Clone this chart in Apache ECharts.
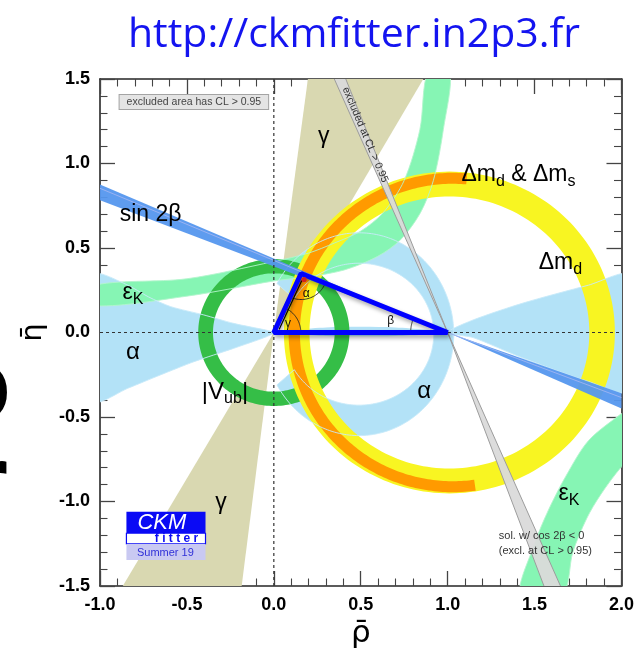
<!DOCTYPE html>
<html>
<head>
<meta charset="utf-8">
<script src="https://cdn.jsdelivr.net/npm/echarts@6/dist/echarts.min.js"></script>
<style>
  html, body { margin: 0; padding: 0; background: #fff; }
  #chart { width: 637px; height: 655px; }
</style>
</head>
<body>
<div id="chart"></div>
<script>
// Constraint regions in the (rho-bar, eta-bar) plane, as boundary points or ring parameters.
// Ring parameters: [centre rho, centre eta, inner r rho, inner r eta, outer r rho, outer r eta, from deg, to deg]

const gammaUpper = [[0, 0], [0.196, 1.5], [0.86, 1.5]];
const gammaLower = [[0, 0], [-0.869, -1.5], [-0.185, -1.5]];

const cos2bExclUpper = [[1, 0], [0.348, 1.5], [0.414, 1.5]];
const cos2bExclLower = [[1, 0], [1.554, -1.5], [1.649, -1.5]];

const sin2bUpper = [[1, 0], [-1, 0.876], [-1, 0.783]];
const sin2bLower = [[1, 0], [2, -0.36], [2, -0.45]];
const sin2bInnerLines = [
  [[1, 0], [-1, 0.853]],
  [[1, 0], [2, -0.385]]
];

const alphaLeft = [
  [-1.03, 0.34], [-0.85, 0.285], [-0.72, 0.21], [-0.593, 0.153], [-0.403, 0.104],
  [-0.232, 0.054], [-0.04, 0.013], [0, 0],
  [-0.042, -0.025], [-0.232, -0.094], [-0.46, -0.173], [-0.65, -0.25], [-0.84, -0.33], [-1.03, -0.405]
];
const alphaRight = [
  [1, 0], [1.146, 0.074], [1.43, 0.173], [1.81, 0.28], [2.05, 0.34],
  [2.05, -0.35], [1.81, -0.29], [1.43, -0.15], [1.146, -0.03]
];
const alphaAxis = [[0, 0], [0.3, 0.03], [0.7, 0.03], [1, 0], [0.7, -0.02], [0.3, -0.02]];
const alphaRing = [0.49, -0.01, 0.43, 0.42, 0.545, 0.6, -150, 150];

const epsKUpper = [
  [-1.05, 0.275], [-0.5, 0.318], [0, 0.42], [0.2, 0.47], [0.35, 0.53], [0.5, 0.6], [0.63, 0.71],
  [0.75, 0.9], [0.84, 1.2], [0.889, 1.55],
  [1.012, 1.55], [0.975, 1.2], [0.918, 0.9], [0.842, 0.706], [0.728, 0.548], [0.595, 0.449],
  [0.405, 0.37], [0.2, 0.33], [0, 0.305], [-0.5, 0.215], [-1.05, 0.16]
];
const epsKLower = [
  [1.42, -1.55], [1.5, -1.25], [1.58, -1.05], [1.68, -0.85], [1.81, -0.64], [2.0, -0.48], [2.06, -0.44],
  [2.06, -0.75], [2.0, -0.795], [1.88, -0.96], [1.80, -1.10], [1.72, -1.30], [1.66, -1.55]
];

const vubRing = [0, 0, 0.35, 0.35, 0.435, 0.435, 0, 360];
const dmdRing = [1.01, 0, 0.805, 0.805, 0.952, 0.952, 0, 360];
const dmsRing = [1.03, 0, 0.88, 0.88, 0.945, 0.945, 85, 278];

const apex = [0.157, 0.349];
const triangle = [[0, 0], [1, 0], apex];

const zeroLines = [[[-1, 0], [2, 0]], [[0, -1.5], [0, 1.5]]];

const xTicks = { min: -1, max: 2, step: 0.5 };
const yTicks = { min: -1.5, max: 1.5, step: 0.5 };

// ---- helpers ----
function ringPolygon(r) {
  const [cx, cy, rxi, ryi, rxo, ryo, a0, a1] = r;
  const n = 200, pts = [];
  for (let i = 0; i <= n; i++) {
    const t = (a0 + (a1 - a0) * i / n) * Math.PI / 180;
    pts.push([cx + rxo * Math.cos(t), cy + ryo * Math.sin(t)]);
  }
  for (let i = n; i >= 0; i--) {
    const t = (a0 + (a1 - a0) * i / n) * Math.PI / 180;
    pts.push([cx + rxi * Math.cos(t), cy + ryi * Math.sin(t)]);
  }
  return pts;
}

function regionSeries(name, polys, style, z) {
  return {
    name, type: 'custom', coordinateSystem: 'cartesian2d',
    xAxisIndex: 0, yAxisIndex: 0, clip: true, silent: true, z,
    data: [[0, 0]],
    renderItem: function (params, api) {
      return {
        type: 'group',
        children: polys.map(function (p) {
          return {
            type: 'polygon',
            shape: { points: p.pts.map(function (q) { return api.coord(q); }), smooth: p.smooth || 0 },
            style: Object.assign({}, style, p.style || {})
          };
        })
      };
    }
  };
}

const LF = 'Liberation Sans';

const bandStroke = { fill: 'none', lineWidth: 1 };

const option = {
  animation: false,
  backgroundColor: '#ffffff',
  grid: { left: 100, right: 10, top: 79, bottom: 69, containLabel: false },
  xAxis: [0, 1].map(function (i) {
    return {
      type: 'value', min: xTicks.min, max: xTicks.max, interval: xTicks.step,
      position: i === 0 ? 'bottom' : 'top',
      splitLine: { show: false },
      axisLine: { show: true, onZero: false, lineStyle: { color: '#262626', width: 1.6 } },
      axisTick: { show: true, inside: true, length: 15, lineStyle: { color: '#444', width: 1.3 } },
      minorTick: { show: true, splitNumber: 5, length: 7.5, lineStyle: { color: '#444', width: 1.1 } },
      axisLabel: {
        show: i === 0, margin: 10, showMinLabel: true, showMaxLabel: true,
        formatter: function (v) { return v.toFixed(1); },
        fontFamily: LF, fontWeight: 'bold', fontSize: 18, color: '#000'
      },
      name: i === 0 ? '\u03C1\u0304' : '',
      nameLocation: 'middle', nameGap: 29,
      nameTextStyle: { fontFamily: 'DejaVu Sans', fontSize: 31, color: '#000' }
    };
  }),
  yAxis: [0, 1].map(function (i) {
    return {
      type: 'value', min: yTicks.min, max: yTicks.max, interval: yTicks.step,
      position: i === 0 ? 'left' : 'right',
      splitLine: { show: false },
      axisLine: { show: true, onZero: false, lineStyle: { color: '#262626', width: 1.6 } },
      axisTick: { show: true, inside: true, length: 15, lineStyle: { color: '#444', width: 1.3 } },
      minorTick: { show: true, splitNumber: 5, length: 7.5, lineStyle: { color: '#444', width: 1.1 } },
      axisLabel: {
        show: i === 0, margin: 10, showMinLabel: true, showMaxLabel: true,
        formatter: function (v) { return v.toFixed(1); },
        fontFamily: LF, fontWeight: 'bold', fontSize: 18, color: '#000'
      },
      name: i === 0 ? '\u03B7\u0304' : '',
      nameLocation: 'middle', nameGap: 50, nameRotate: 90,
      nameTextStyle: { fontFamily: 'DejaVu Sans', fontSize: 29, color: '#000' }
    };
  }),
  graphic: [
    {
      type: 'text', x: 354, y: 35, silent: true,
      style: { text: 'http://ckmfitter.in2p3.fr', fontFamily: 'Open Sans', fontSize: 41,
               fill: '#1414f0', align: 'center', verticalAlign: 'middle' }
    },
    {
      type: 'text', x: 11, y: 391, silent: true,
      style: { text: 'o', fontFamily: LF, fontWeight: 'bold', fontSize: 104, fill: '#000',
               align: 'right', verticalAlign: 'middle' }
    },
    {
      type: 'text', x: 8, y: 488, silent: true,
      style: { text: 'r', fontFamily: LF, fontWeight: 'bold', fontSize: 104, fill: '#000',
               align: 'right', verticalAlign: 'middle' }
    }
  ],
  series: [
    // gamma
    regionSeries('gamma', [{ pts: gammaUpper }, { pts: gammaLower }], { fill: '#d9d8b1' }, 1),
    // alpha
    regionSeries('alpha', [
      { pts: alphaLeft, smooth: 0.25 }, { pts: alphaRight, smooth: 0.25 },
      { pts: alphaAxis, smooth: 0.3 }, { pts: ringPolygon(alphaRing) }
    ], { fill: '#b3e2f7' }, 2),
    // epsilon_K
    regionSeries('epsK', [{ pts: epsKUpper, smooth: 0.3 }, { pts: epsKLower, smooth: 0.3 }], { fill: '#86f5b4' }, 3),
    // |Vub|
    regionSeries('vub', [{ pts: ringPolygon(vubRing) }], { fill: '#35be47' }, 4),
    // Delta m_d
    regionSeries('dmd', [{ pts: ringPolygon(dmdRing) }], { fill: '#f8f522' }, 5),
    // Delta m_d & Delta m_s
    regionSeries('dms', [{ pts: ringPolygon(dmsRing) }], { fill: '#ff9a00' }, 6),
    // contour lines of alpha and epsilon_K drawn over the filled areas
    regionSeries('contours', [
      { pts: epsKUpper, smooth: 0.3, style: { stroke: 'rgba(180,245,205,0.9)' } },
      { pts: epsKLower, smooth: 0.3, style: { stroke: 'rgba(180,245,205,0.9)' } },
      { pts: ringPolygon(alphaRing), style: { stroke: 'rgba(200,234,250,0.9)' } },
      { pts: alphaLeft, smooth: 0.25, style: { stroke: 'rgba(200,234,250,0.9)' } },
      { pts: alphaRight, smooth: 0.25, style: { stroke: 'rgba(200,234,250,0.9)' } }
    ], bandStroke, 7),
    // sin 2beta
    {
      name: 'sin2b', type: 'custom', coordinateSystem: 'cartesian2d', clip: true, silent: true, z: 8,
      data: [[0, 0]],
      renderItem: function (params, api) {
        const c = function (q) { return api.coord(q); };
        const ch = [sin2bUpper, sin2bLower].map(function (p) {
          return { type: 'polygon', shape: { points: p.map(c) }, style: { fill: '#5597ee', opacity: 0.95 } };
        });
        sin2bInnerLines.forEach(function (l) {
          ch.push({ type: 'polyline', shape: { points: l.map(c) }, style: { stroke: '#a8b8f2', lineWidth: 0.8, fill: 'none' } });
        });
        return { type: 'group', children: ch };
      }
    },
    // cos 2beta < 0 solution, excluded
    {
      name: 'cos2bExcl', type: 'custom', coordinateSystem: 'cartesian2d', clip: true, silent: true, z: 9,
      data: [[0, 0]],
      renderItem: function (params, api) {
        const c = function (q) { return api.coord(q); };
        const ch = [];
        [cos2bExclUpper, cos2bExclLower].forEach(function (p) {
          ch.push({ type: 'polygon', shape: { points: p.map(c) }, style: { fill: '#dadada', opacity: 0.95 } });
          ch.push({ type: 'polyline', shape: { points: [c(p[1]), c(p[0]), c(p[2])] },
                    style: { stroke: '#9c9c9c', lineWidth: 1, fill: 'none' } });
        });
        return { type: 'group', children: ch };
      }
    },
    // dotted zero lines
    {
      name: 'zero', type: 'custom', coordinateSystem: 'cartesian2d', clip: true, silent: true, z: 10,
      data: [[0, 0]],
      renderItem: function (params, api) {
        return {
          type: 'group',
          children: zeroLines.map(function (l) {
            return { type: 'line',
                     shape: { x1: api.coord(l[0])[0], y1: api.coord(l[0])[1], x2: api.coord(l[1])[0], y2: api.coord(l[1])[1] },
                     style: { stroke: '#333', lineWidth: 1.2, lineDash: [3, 3] } };
          })
        };
      }
    },
    // unitarity triangle
    {
      name: 'triangle', type: 'custom', coordinateSystem: 'cartesian2d', clip: true, silent: true, z: 11,
      data: [[0, 0]],
      renderItem: function (params, api) {
        const A = api.coord(triangle[0]), B = api.coord(triangle[1]), C = api.coord(triangle[2]);
        function arcPts(o, p1, p2, r) {
          const t0 = Math.atan2(p1[1] - o[1], p1[0] - o[0]);
          let d = Math.atan2(p2[1] - o[1], p2[0] - o[0]) - t0;
          while (d > Math.PI) d -= 2 * Math.PI;
          while (d < -Math.PI) d += 2 * Math.PI;
          const pts = [];
          for (let i = 0; i <= 30; i++) {
            const t = t0 + d * i / 30;
            pts.push([o[0] + r * Math.cos(t), o[1] + r * Math.sin(t)]);
          }
          return pts;
        }
        const len = Math.hypot(C[0] - A[0], C[1] - A[1]);
        const dir = [(C[0] - A[0]) / len, (C[1] - A[1]) / len];
        const nrm = [-dir[1], dir[0]];
        const off = 3.5;
        const arcStyle = { stroke: '#222', lineWidth: 0.9, fill: 'none' };
        const lab = function (q, s) {
          const p = api.coord(q);
          return { type: 'text', x: p[0], y: p[1],
                   style: { text: s, fontFamily: LF, fontSize: 12, fill: '#111', align: 'center', verticalAlign: 'middle' } };
        };
        return {
          type: 'group',
          children: [
            { type: 'polyline', shape: { points: arcPts(A, B, C, 27) }, style: arcStyle },
            { type: 'polyline', shape: { points: arcPts(C, A, B, 26) }, style: arcStyle },
            { type: 'polyline', shape: { points: arcPts(B, A, C, 37) }, style: arcStyle },
            { type: 'polygon', shape: { points: [A, B, C] },
              style: { fill: 'none', stroke: '#0000ff', lineWidth: 5, lineJoin: 'bevel',
                       shadowColor: 'rgba(0,0,0,0.35)', shadowBlur: 4, shadowOffsetX: 2, shadowOffsetY: 3 } },
            { type: 'line',
              shape: { x1: A[0] + nrm[0] * off + dir[0] * 5, y1: A[1] + nrm[1] * off + dir[1] * 5,
                       x2: C[0] + nrm[0] * off - dir[0] * 6, y2: C[1] + nrm[1] * off - dir[1] * 6 },
              style: { stroke: '#000', lineWidth: 1.2 } },
            { type: 'circle', shape: { cx: C[0] + 3, cy: C[1] + 6, r: 2.6 }, style: { fill: '#d42020' } },
            lab([0.187, 0.231], '\u03B1'),
            lab([0.082, 0.053], '\u03B3'),
            lab([0.672, 0.068], '\u03B2')
          ]
        };
      }
    },
    // labels and logo
    {
      name: 'labels', type: 'custom', coordinateSystem: 'cartesian2d', clip: false, silent: true, z: 12,
      data: [[0, 0]],
      renderItem: function (params, api) {
        const sub = { s: { fontSize: 16, fontFamily: LF, verticalAlign: 'bottom', lineHeight: 16, fill: '#000' } };
        function T(q, text, size, extra) {
          const p = api.coord(q);
          return { type: 'text', x: p[0], y: p[1],
                   style: Object.assign({ text: text, fontFamily: LF, fontSize: size, fill: '#000',
                                          align: 'left', verticalAlign: 'middle' }, extra || {}) };
        }
        function R(q0, q1, style) {
          const a = api.coord(q0), b = api.coord(q1);
          return { type: 'rect', shape: { x: Math.min(a[0], b[0]), y: Math.min(a[1], b[1]),
                                          width: Math.abs(b[0] - a[0]), height: Math.abs(b[1] - a[1]) },
                   style: style };
        }
        const rich = { rich: sub, lineHeight: 30 };
        // rotation of the text along the excluded band
        const e0 = api.coord([1, 0]), e1 = api.coord([0.381, 1.5]);
        const rot = -Math.atan2(e0[1] - e1[1], e0[0] - e1[0]);
        return {
          type: 'group',
          children: [
            T([-0.46, 1.364], 'excluded area has CL > 0.95', 10.5,
              { align: 'center', fill: '#444', backgroundColor: '#e4e4e4', borderColor: '#a4a4a4',
                borderWidth: 1, padding: [2, 7, 1, 7] }),
            Object.assign(T([0.525, 1.17], 'excluded at CL > 0.95', 10.5, { align: 'center', fill: '#333' }), { rotation: rot }),
            T([-0.887, 0.696], 'sin 2\u03B2', 23),
            T([0.287, 1.158], '\u03B3', 23, { align: 'center' }),
            T([1.079, 0.935], '\u0394m{s|d} & \u0394m{s|s}', 23, rich),
            T([1.524, 0.415], '\u0394m{s|d}', 23, rich),
            T([-0.871, 0.234], '\u03B5{s|K}', 23, rich),
            T([-0.811, -0.118], '\u03B1', 24, { align: 'center' }),
            T([-0.414, -0.352], '|V{s|ub}|', 24, rich),
            T([0.865, -0.35], '\u03B1', 24, { align: 'center' }),
            T([-0.304, -1.004], '\u03B3', 23, { align: 'center' }),
            T([1.638, -0.951], '\u03B5{s|K}', 23, rich),
            T([1.294, -1.2056], 'sol. w/ cos 2\u03B2 < 0', 11, { fill: '#333' }),
            T([1.294, -1.294], '(excl. at CL > 0.95)', 11, { fill: '#333' }),
            // CKMfitter logo
            R([-0.848, -1.060], [-0.393, -1.188], { fill: '#0a0af5' }),
            R([-0.848, -1.188], [-0.393, -1.251], { fill: '#ffffff', stroke: '#0a0af5', lineWidth: 1.2 }),
            R([-0.848, -1.251], [-0.393, -1.346], { fill: '#c9c9f2' }),
            T([-0.644, -1.124], 'CKM', 22, { align: 'center', fill: '#ffffff', fontStyle: 'italic' }),
            T([-0.56, -1.222], 'f i t t e r', 12, { align: 'center', fill: '#0a0af5', fontWeight: 'bold' }),
            T([-0.624, -1.302], 'Summer 19', 11, { align: 'center', fill: '#3030d8' })
          ]
        };
      }
    }
  ]
};

const chart = echarts.init(document.getElementById('chart'));
chart.setOption(option);
</script>
</body>
</html>
